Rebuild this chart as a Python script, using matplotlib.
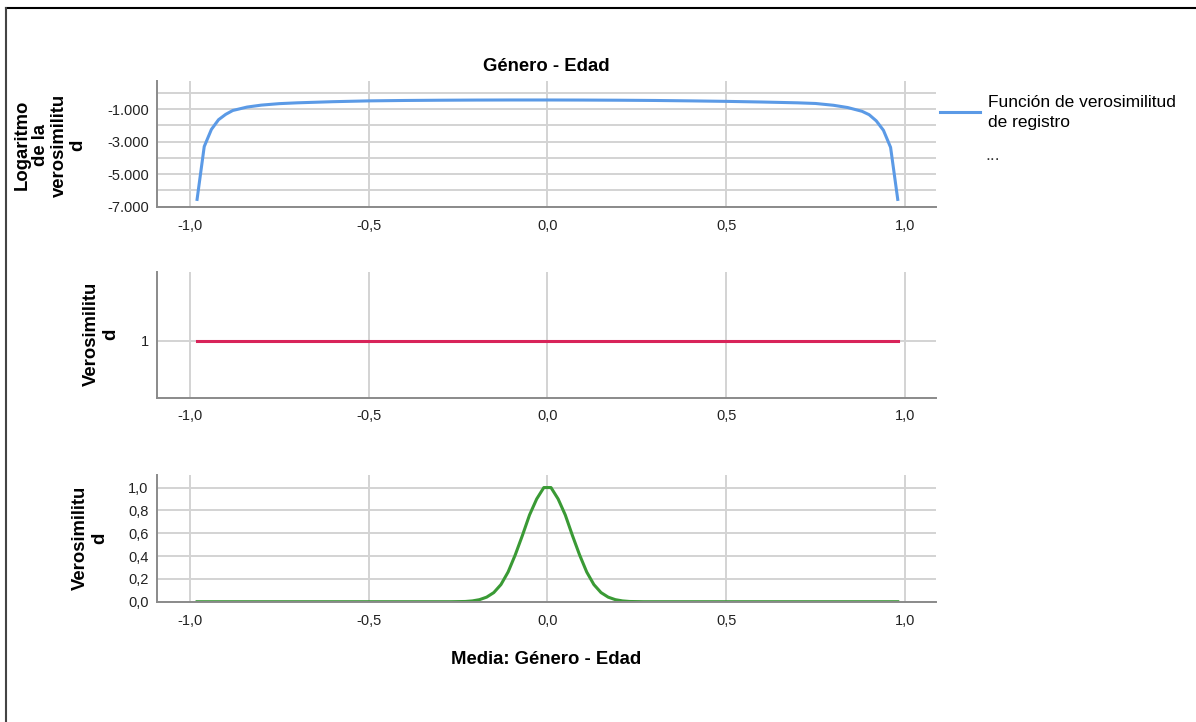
import matplotlib
matplotlib.use("Agg")
import matplotlib.pyplot as plt
from matplotlib.lines import Line2D
from matplotlib.ticker import FuncFormatter, FixedLocator

plt.rcParams["font.family"] = ["Liberation Sans", "DejaVu Sans"]

# log-likelihood curve (top panel)
loglik_x = [-0.98, -0.96, -0.94, -0.92, -0.90, -0.88, -0.84, -0.80, -0.75, -0.70,
            -0.60, -0.50, -0.40, -0.30, -0.20, -0.10, 0.00, 0.10, 0.20, 0.30,
            0.40, 0.50, 0.60, 0.70, 0.75, 0.80, 0.84, 0.88, 0.90, 0.92,
            0.94, 0.96, 0.98]
loglik_y = [-6550, -3300, -2250, -1650, -1320, -1080, -870, -750, -660, -610,
            -540, -490, -465, -450, -440, -435, -435, -440, -450, -465,
            -490, -520, -560, -610, -650, -760, -900, -1130, -1340, -1720,
            -2300, -3350, -6550]

# likelihood (middle panel) - constant
lik_x = [-0.98, 0.98]
lik_y = [1, 1]

# likelihood (bottom panel)
post_x = [-0.98, -0.27, -0.23, -0.21, -0.19, -0.17, -0.15, -0.13, -0.11, -0.09,
          -0.07, -0.05, -0.03, -0.01, 0.01, 0.03, 0.05, 0.07, 0.09, 0.11,
          0.13, 0.15, 0.17, 0.19, 0.21, 0.23, 0.27, 0.98]
post_y = [0.0, 0.0, 0.002, 0.007, 0.018, 0.04, 0.08, 0.15, 0.26, 0.41,
          0.58, 0.76, 0.90, 1.0, 1.0, 0.90, 0.76, 0.58, 0.41, 0.26,
          0.15, 0.08, 0.04, 0.018, 0.007, 0.002, 0.0, 0.0]

x_ticks = [-1.0, -0.5, 0.0, 0.5, 1.0]

BLUE = "#5b9ae6"
RED = "#d8245a"
GREEN = "#3a9a35"
GRID = "#d3d3d3"
SPINE = "#8a8a8a"
TICK_FS = 10.5
BOLD_FS = 13.3


def es_num(v, dec):
    s = f"{v:,.{dec}f}"
    return s.replace(",", "X").replace(".", ",").replace("X", ".")


fig = plt.figure(figsize=(11.96, 7.22), dpi=100)

L, W, H = 0.1313, 0.6513, 0.1745
ax1 = fig.add_axes([L, 0.7137, W, H])
ax2 = fig.add_axes([L, 0.4492, W, H])
ax3 = fig.add_axes([L, 0.1666, W, 0.1755])

for ax in (ax1, ax2, ax3):
    ax.set_xlim(-1.092, 1.087)
    ax.set_xticks(x_ticks)
    ax.xaxis.set_major_formatter(FuncFormatter(lambda v, p: es_num(v, 1)))
    ax.grid(True, which="both", color=GRID, lw=1.4)
    ax.set_axisbelow(True)
    for s in ("top", "right"):
        ax.spines[s].set_visible(False)
    for s in ("left", "bottom"):
        ax.spines[s].set_color(SPINE)
        ax.spines[s].set_linewidth(1.4)
    ax.tick_params(which="both", length=0, labelsize=TICK_FS, colors="#222222")
    ax.tick_params(axis="x", pad=8.5)
    ax.tick_params(axis="y", pad=6)

ax1.plot(loglik_x, loglik_y, color=BLUE, lw=2.2, label="Función de verosimilitud\nde registro")
ax1.set_ylim(-7000, 750)
ax1.yaxis.set_major_locator(FixedLocator([-7000, -5000, -3000, -1000]))
ax1.yaxis.set_minor_locator(FixedLocator([-6000, -4000, -2000, 0]))
ax1.yaxis.set_major_formatter(FuncFormatter(lambda v, p: es_num(v, 0)))
ax1.set_title("Género - Edad", fontsize=BOLD_FS, fontweight="bold", pad=7)

ax2.plot(lik_x, lik_y, color=RED, lw=2.2)
ax2.set_ylim(0.55, 1.55)
ax2.set_yticks([1])
ax2.set_yticklabels(["1"])

ax3.plot(post_x, post_y, color=GREEN, lw=2.2)
ax3.set_ylim(0, 1.11)
ax3.set_yticks([0, 0.2, 0.4, 0.6, 0.8, 1.0])
ax3.yaxis.set_major_formatter(FuncFormatter(lambda v, p: es_num(v, 1)))
ax3.set_xlabel("Media: Género - Edad", fontsize=BOLD_FS, fontweight="bold", labelpad=17)

ylab = dict(rotation=90, ha="center", va="center", fontsize=BOLD_FS,
            fontweight="bold", multialignment="center", linespacing=1.12)
fig.text(50 / 1196, 1 - 145 / 722, "Logaritmo\nde la\nverosimilitu\nd", **ylab)
fig.text(101 / 1196, 1 - 334 / 722, "Verosimilitu\nd", **ylab)
fig.text(90 / 1196, 1 - 538 / 722, "Verosimilitu\nd", **ylab)

leg = ax1.legend(loc="upper left", bbox_to_anchor=(940 / 1196, 1 - 95 / 722),
                 bbox_transform=fig.transFigure, frameon=False, fontsize=12.5,
                 handlelength=2.3, handletextpad=0.45, borderaxespad=0, borderpad=0)
for t in leg.get_texts():
    t.set_linespacing(1.4)
fig.text(985 / 1196, 1 - 155 / 722, "...", fontsize=12.5, color="#333333",
         ha="left", va="center")

# outer frame (top and left edges)
fig.add_artist(Line2D([6 / 1196, 1.0], [1 - 8 / 722, 1 - 8 / 722],
                      transform=fig.transFigure, color="black", lw=1.5))
fig.add_artist(Line2D([6 / 1196, 6 / 1196], [0.0, 1 - 8 / 722],
                      transform=fig.transFigure, color="#444444", lw=1.5))

fig.savefig("out.png", dpi=100)
